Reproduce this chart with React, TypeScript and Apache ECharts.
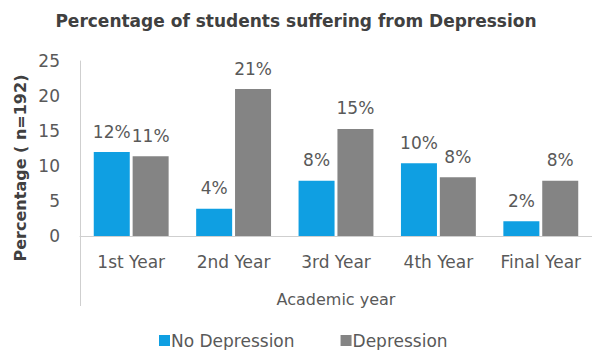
import React, { useEffect, useRef } from "react";
import * as echarts from "echarts";

const categories = ["1st Year", "2nd Year", "3rd Year", "4th Year", "Final Year"];
const noDepression = [12, 3.9, 7.9, 10.4, 2.1];
const depression = [11.4, 21, 15.3, 8.4, 7.9];
const seriesNames = ["No Depression", "Depression"];
const titleText = "Percentage of students suffering from Depression";
const yAxisName = "Percentage ( n=192)";
const xAxisName = "Academic year";

const FONT = "DejaVu Sans, Verdana, sans-serif";

export default function App() {
  const ref = useRef<HTMLDivElement>(null);
  useEffect(() => {
    if (!ref.current) return;
    const chart = echarts.init(ref.current, null, { renderer: "svg" });
    const labelFmt = (p: any) => Math.round(p.value) + "%";
    chart.setOption({
      animation: false,
      backgroundColor: "#ffffff",
      textStyle: { fontFamily: FONT },
      title: {
        text: titleText,
        left: "center",
        top: 7,
        textStyle: { fontFamily: FONT, fontSize: 17, fontWeight: "bold", color: "#404040" },
      },
      legend: {
        data: seriesNames,
        bottom: -4,
        left: 154,
        itemWidth: 11,
        itemHeight: 11,
        itemGap: 46,
        icon: "rect",
        textStyle: { fontFamily: FONT, fontSize: 17, color: "#595959", padding: [0, 0, 0, -4] },
      },
      grid: { left: 80, top: 61, width: 515, height: 175, containLabel: false },
      xAxis: {
        type: "category",
        data: categories,
        name: xAxisName,
        nameLocation: "middle",
        nameGap: 55,
        nameTextStyle: { fontFamily: FONT, fontSize: 16, color: "#595959" },
        axisLine: { show: true, lineStyle: { color: "#cfcfcf", width: 1 } },
        axisTick: { show: false },
        axisLabel: { fontFamily: FONT, fontSize: 17, color: "#595959", margin: 17, interval: 0, hideOverlap: false },
      },
      yAxis: {
        type: "value",
        min: 0,
        max: 25,
        interval: 5,
        axisLine: { show: true, lineStyle: { color: "#cfcfcf", width: 1 } },
        axisTick: { show: false },
        splitLine: { show: false },
        axisLabel: { fontFamily: FONT, fontSize: 17, color: "#595959", margin: 20 },
      },
      graphic: [
        {
          type: "line",
          shape: { x1: 80.5, y1: 236, x2: 80.5, y2: 306 },
          style: { stroke: "#cfcfcf", lineWidth: 1 },
        },
        {
          type: "text",
          x: 20,
          y: 168,
          rotation: Math.PI / 2,
          style: {
            text: yAxisName,
            fontFamily: FONT,
            fontSize: 16,
            fontWeight: "bold",
            fill: "#404040",
            align: "center",
            verticalAlign: "middle",
          },
        },
      ],
      series: [
        {
          name: seriesNames[0],
          type: "bar",
          data: noDepression,
          itemStyle: { color: "#0f9fe2" },
          barWidth: 36,
          barGap: "8%",
          label: { show: true, position: "top", distance: 12, formatter: labelFmt, fontFamily: FONT, fontSize: 17, color: "#595959" },
        },
        {
          name: seriesNames[1],
          type: "bar",
          data: depression,
          itemStyle: { color: "#848484" },
          barWidth: 36,
          label: { show: true, position: "top", distance: 12, formatter: labelFmt, fontFamily: FONT, fontSize: 17, color: "#595959" },
        },
      ],
    });
    return () => chart.dispose();
  }, []);
  return <div ref={ref} style={{ width: 592, height: 350, position: "absolute", left: 0, top: 0 }} />;
}
